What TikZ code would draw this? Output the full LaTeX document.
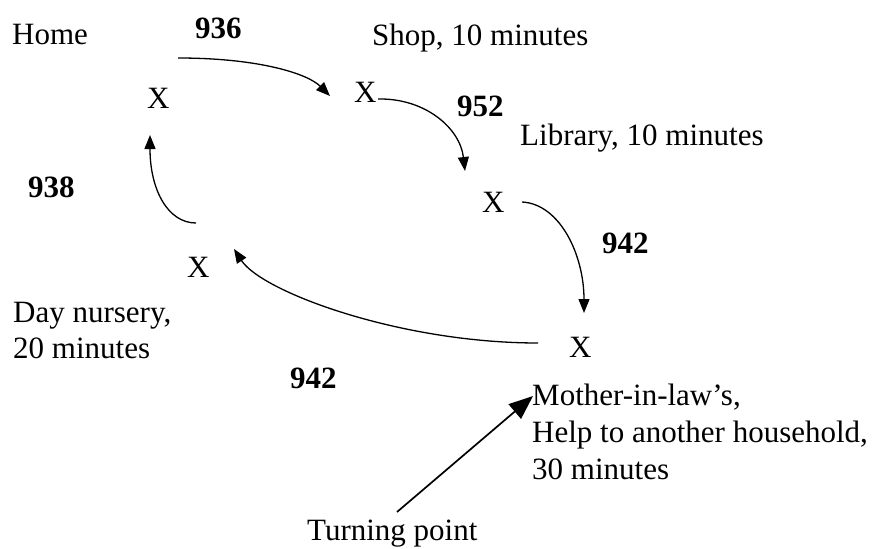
\documentclass[tikz,border=0pt]{standalone}
\usepackage{fontspec}
\setmainfont{Liberation Serif}
\usetikzlibrary{arrows.meta}
\begin{document}
\begin{tikzpicture}[x=1pt,y=-1pt,
  txt/.style={anchor=base west,inner sep=0pt,font=\fontsize{31}{37}\selectfont},
  num/.style={txt,font=\fontsize{31}{37}\selectfont\bfseries},
  trip/.style={line width=1.3pt,-{Triangle[length=14pt,width=11pt]}},
  pointer/.style={line width=1.7pt,-{Triangle[length=24pt,width=19pt]}}]
\useasboundingbox (0,0) rectangle (879,549);
% labels
\node[txt] (home) at (12,44) {Home};
\node[num] (n936) at (195,38) {936};
\node[txt] (shop) at (372,45) {Shop, 10 minutes};
\node[num] (n952) at (457,116) {952};
\node[txt] (lib) at (520,145) {Library, 10 minutes};
\node[num] (n938) at (28,197) {938};
\node[num] (n942a) at (602,253) {942};
\node[txt] (day1) at (13,322) {Day nursery,};
\node[txt] (day2) at (13,358) {20 minutes};
\node[num] (n942b) at (290,388) {942};
\node[txt] (mo1) at (532,405) {Mother-in-law’s,};
\node[txt] (mo2) at (532,442) {Help to another household,};
\node[txt] (mo3) at (532,479) {30 minutes};
\node[txt] (turn) at (307,540) {Turning point};
% places
\node[txt] (xhome) at (147,108) {X};
\node[txt] (xshop) at (354,102) {X};
\node[txt] (xlib) at (482,212) {X};
\node[txt] (xmo) at (569,357) {X};
\node[txt] (xday) at (187,277) {X};
% connector ends
\coordinate (a1s) at (178,58);
\coordinate (a1e) at (330,96);
\coordinate (a2s) at (378,99);
\coordinate (a2e) at (465,171);
\coordinate (a3s) at (522,202);
\coordinate (a3e) at (584,313);
\coordinate (a4s) at (538,343);
\coordinate (a4e) at (234,249);
\coordinate (a5s) at (196,223);
\coordinate (a5e) at (150,135);
\coordinate (tps) at (397,512);
\coordinate (tpe) at (533,396);
% connectors
\draw[trip] (a1s) .. controls (260,58) and (308,74) .. (a1e);
\draw[trip] (a2s) .. controls (425,98) and (460,128) .. (a2e);
\draw[trip] (a3s) .. controls (560,204) and (584,255) .. (a3e);
\draw[trip] (a4s) .. controls (400,343) and (262,292) .. (a4e);
\draw[trip] (a5s) .. controls (168,223) and (150,190) .. (a5e);
\draw[pointer] (tps) -- (tpe);
\end{tikzpicture}
\end{document}
